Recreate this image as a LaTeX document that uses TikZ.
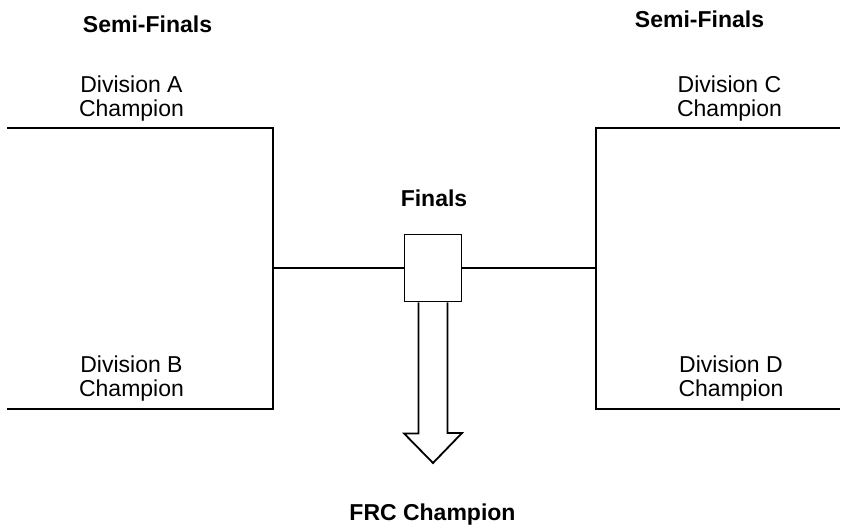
\documentclass[tikz,border=0pt]{standalone}
\usepackage{fontspec}
\setmainfont{Liberation Sans}
\begin{document}
\begin{tikzpicture}[x=1pt,y=-1pt,
  ln/.style={line width=1.8pt, line cap=rect},
  lbl/.style={inner sep=0pt, align=center, font=\fontsize{23}{24}\selectfont},
  hdr/.style={inner sep=0pt, anchor=base, font=\fontsize{23}{24}\selectfont\bfseries},
  finalbox/.style={draw, line width=1.8pt, minimum width=57pt, minimum height=67pt, inner sep=0pt, fill=white}]
\useasboundingbox (0,0) rectangle (847,525);
% headers
\node[hdr] (semiL) at (147.5,32) {Semi-Finals};
\node[hdr] (semiR) at (699.5,27) {Semi-Finals};
\node[hdr] (finals) at (434,206.5) {Finals};
\node[hdr] (frc) at (432.5,520) {FRC Champion};
% division labels
\node[lbl, anchor=north] (divA) at (131.5,76) {Division A\\Champion};
\node[lbl, anchor=north] (divC) at (729.5,76) {Division C\\Champion};
\node[lbl, anchor=north] (divB) at (131.5,356) {Division B\\Champion};
\node[lbl, anchor=north] (divD) at (731,356) {Division D\\Champion};
% bracket coordinates
\coordinate (aL) at (8,128);
\coordinate (aR) at (273,128);
\coordinate (bL) at (8,409);
\coordinate (bR) at (273,409);
\coordinate (jL) at (273,268);
\coordinate (cR) at (839,128);
\coordinate (cL) at (596,128);
\coordinate (dR) at (839,409);
\coordinate (dL) at (596,409);
\coordinate (jR) at (596,268);
% final box
\node[finalbox] (box) at (433,268) {};
% brackets
\draw[ln] (aL) -- (aR) -- (bR) -- (bL);
\draw[ln] (cR) -- (cL) -- (dL) -- (dR);
\draw[ln] (jL) -- (box.west);
\draw[ln] (box.east) -- (jR);
% hollow arrow
\draw[line width=1.8pt, line join=miter]
  ([xshift=-14.5pt]box.south) -- ++(0,131) -- ++(-14.5,0) -- (433,463)
  -- (462,433) -- ++(-14.5,0) -- ([xshift=14.5pt]box.south);
\end{tikzpicture}
\end{document}
